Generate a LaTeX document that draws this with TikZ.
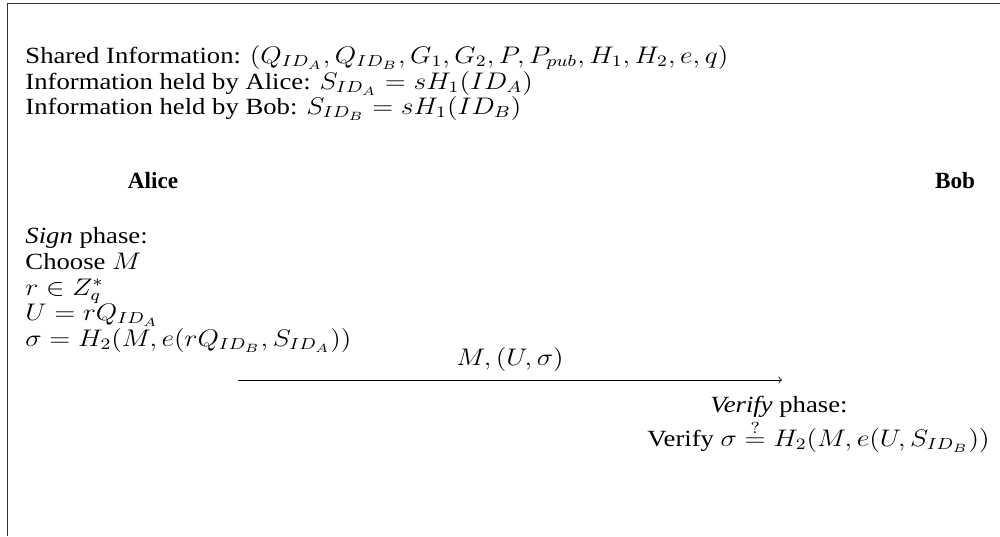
\documentclass[tikz,border=0pt]{standalone}
\usepackage{fontspec}
\setmainfont{Liberation Serif}
\begin{document}
\begin{tikzpicture}[x=0.5pt,y=-0.5pt,
  fnt/.style={inner sep=0pt,xscale=1.15,font=\fontsize{11.6}{14}\selectfont},
  txt/.style={fnt,anchor=base west},
  hdr/.style={inner sep=0pt,anchor=base,font=\fontsize{11.6}{14}\selectfont\bfseries},
  frame/.style={draw=black!80,line width=0.7pt}]
\useasboundingbox (0,0) rectangle (1000,536);
\draw[frame] (7.5,536) -- (7.5,3.3) -- (1000,3.3);
\node[txt] (shared) at (25,63) {Shared Information: $(Q_{ID_A},Q_{ID_B},G_1,G_2,P,P_{pub},H_1,H_2,e,q)$};
\node[txt] (alicekey) at (25,89) {Information held by Alice: $S_{ID_A}=sH_1(ID_A)$};
\node[txt] (bobkey) at (25,114) {Information held by Bob: $S_{ID_B}=sH_1(ID_B)$};
\node[hdr] (alice) at (153,188) {Alice};
\node[hdr] (bob) at (955,188) {Bob};
\node[txt] (sign) at (25,243) {\textit{Sign} phase:};
\node[txt] (choose) at (25,269) {Choose $M$};
\node[txt] (rin) at (25,295) {$r\in Z_q^*$};
\node[txt] (U) at (25,320) {$U=rQ_{ID_A}$};
\node[txt] (sigma) at (25,346) {$\sigma=H_2(M,e(rQ_{ID_B},S_{ID_A}))$};
\coordinate (as) at (238,380);
\coordinate (ae) at (782,380);
\draw[->,line width=0.4pt] (as) -- node[fnt,above=4pt] (msg) {$M,(U,\sigma)$} (ae);
\node[fnt,anchor=base] (verifyphase) at (779,412) {\textit{Verify} phase:};
\node[fnt,anchor=base east] (verify) at (990,446) {Verify $\sigma\stackrel{?}{=}H_2(M,e(U,S_{ID_B}))$};
\end{tikzpicture}
\end{document}
